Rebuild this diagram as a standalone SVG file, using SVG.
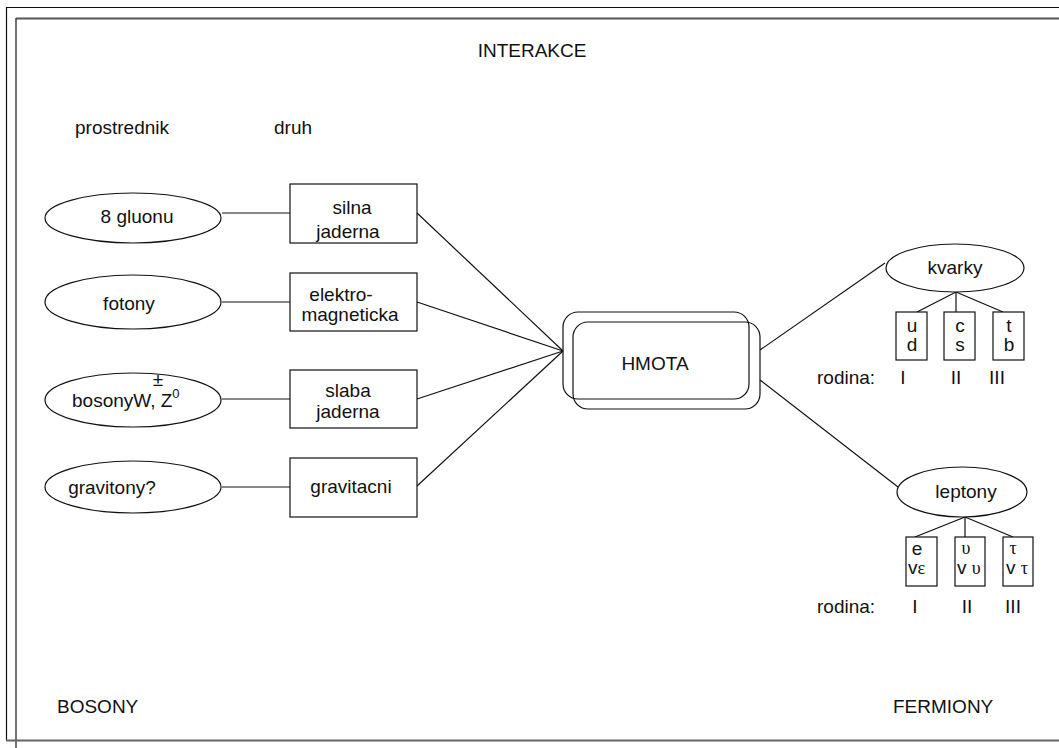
<svg xmlns="http://www.w3.org/2000/svg" width="1059" height="748" viewBox="0 0 1059 748">
<style>
text{font-family:"Liberation Sans",Arial,sans-serif;font-size:19px;fill:#111}
.m{text-anchor:middle}
.s{fill:#fff;stroke:#111;stroke-width:1.2}
.c{stroke:#111;stroke-width:1.2;fill:none}
.g{font-family:"Liberation Serif","Times New Roman",serif;font-size:18px}
</style>
<rect width="1059" height="748" fill="#fff"/>
<g id="frame">
<line x1="6" y1="7.5" x2="1059" y2="7.5" stroke="#111" stroke-width="1.2"/>
<line x1="6.5" y1="7" x2="6.5" y2="740" stroke="#111" stroke-width="1.2"/>
<line x1="16" y1="18.5" x2="1059" y2="18.5" stroke="#555" stroke-width="2"/>
<line x1="16" y1="18" x2="16" y2="748" stroke="#444" stroke-width="1.5"/>
<line x1="6" y1="740.5" x2="1059" y2="740.5" stroke="#666" stroke-width="2"/>
</g>
<g id="connectors">
<line class="c" x1="222" y1="213" x2="290" y2="213"/>
<line class="c" x1="222" y1="302" x2="290" y2="302"/>
<line class="c" x1="222" y1="399" x2="290" y2="399"/>
<line class="c" x1="222" y1="487" x2="290" y2="487"/>
<line class="c" x1="417" y1="213" x2="563" y2="351"/>
<line class="c" x1="417" y1="302" x2="563" y2="351"/>
<line class="c" x1="417" y1="399" x2="563" y2="351"/>
<line class="c" x1="417" y1="486" x2="563" y2="351"/>
<line class="c" x1="760" y1="350" x2="885" y2="263"/>
<line class="c" x1="760" y1="380" x2="898" y2="487"/>
<line class="c" x1="956" y1="292" x2="917" y2="312"/>
<line class="c" x1="956" y1="292" x2="956" y2="312"/>
<line class="c" x1="956" y1="292" x2="1003" y2="312"/>
<line class="c" x1="965" y1="517" x2="915" y2="537"/>
<line class="c" x1="965" y1="517" x2="965" y2="537"/>
<line class="c" x1="965" y1="517" x2="1013" y2="537"/>
</g>
<g id="labels">
<text class="m" x="532" y="57">INTERAKCE</text>
<text x="75" y="134">prostrednik</text>
<text x="274" y="134">druh</text>
<text x="57" y="713">BOSONY</text>
<text x="893" y="713">FERMIONY</text>
</g>
<g id="gluony"><ellipse class="s" cx="133" cy="218" rx="88" ry="25"/><text class="m" x="137" y="223">8 gluonu</text></g>
<g id="fotony"><ellipse class="s" cx="133" cy="302" rx="88" ry="27"/><text class="m" x="129" y="310">fotony</text></g>
<g id="bosony"><ellipse class="s" cx="133" cy="400" rx="88" ry="27"/><text x="72" y="407">bosonyW, Z<tspan dy="-9" font-size="13">0</tspan></text><text class="m" x="158" y="386" font-size="12">±</text></g>
<g id="gravitony"><ellipse class="s" cx="133" cy="487" rx="88" ry="26"/><text class="m" x="112" y="494">gravitony?</text></g>
<g id="silna"><rect class="s" x="290" y="184" width="127" height="59"/><text class="m" x="352" y="214">silna</text><text class="m" x="348" y="238">jaderna</text></g>
<g id="elektro"><rect class="s" x="290" y="273" width="127" height="58"/><text class="m" x="341" y="301">elektro-</text><text class="m" x="350" y="321">magneticka</text></g>
<g id="slaba"><rect class="s" x="290" y="370" width="127" height="58"/><text class="m" x="348" y="397">slaba</text><text class="m" x="348" y="418">jaderna</text></g>
<g id="gravitacni"><rect class="s" x="290" y="458" width="127" height="59"/><text class="m" x="351" y="493">gravitacni</text></g>
<g id="hmota">
<rect x="563" y="312" width="186" height="87" rx="15" fill="none" stroke="#111" stroke-width="1.2"/>
<rect x="573" y="322" width="187" height="87" rx="15" fill="none" stroke="#111" stroke-width="1.2"/>
<text class="m" x="655" y="370">HMOTA</text>
</g>
<g id="kvarky"><ellipse class="s" cx="955" cy="268" rx="69" ry="24"/><text class="m" x="955" y="274">kvarky</text></g>
<g id="ud"><rect class="s" x="896" y="312" width="31" height="48"/><text class="m" x="912" y="332">u</text><text class="m" x="912" y="351">d</text></g>
<g id="cs"><rect class="s" x="944" y="312" width="31" height="48"/><text class="m" x="960" y="332">c</text><text class="m" x="960" y="351">s</text></g>
<g id="tb"><rect class="s" x="993" y="312" width="31" height="48"/><text class="m" x="1009" y="332">t</text><text class="m" x="1009" y="351">b</text></g>
<g id="rodina1"><text x="817" y="384">rodina:</text><text class="m" x="903" y="384">I</text><text class="m" x="956" y="384">II</text><text class="m" x="997" y="384">III</text></g>
<g id="leptony"><ellipse class="s" cx="962" cy="492" rx="65" ry="25"/><text class="m" x="966" y="498">leptony</text></g>
<g id="e"><rect class="s" x="906" y="537" width="31" height="49"/><text class="m" x="917" y="555">e</text><text x="908" y="574" font-size="17">v<tspan class="g" font-size="14">ε</tspan></text></g>
<g id="mu"><rect class="s" x="955" y="537" width="30" height="49"/><text class="m g" x="966" y="554">υ</text><text x="957" y="574" font-size="17">v <tspan class="g" font-size="14">υ</tspan></text></g>
<g id="tau"><rect class="s" x="1003" y="537" width="30" height="49"/><text class="m g" x="1013" y="554">τ</text><text x="1006" y="574" font-size="17">v <tspan class="g" font-size="14">τ</tspan></text></g>
<g id="rodina2"><text x="817" y="613">rodina:</text><text class="m" x="915" y="613">I</text><text class="m" x="967" y="613">II</text><text class="m" x="1013" y="613">III</text></g>
</svg>
